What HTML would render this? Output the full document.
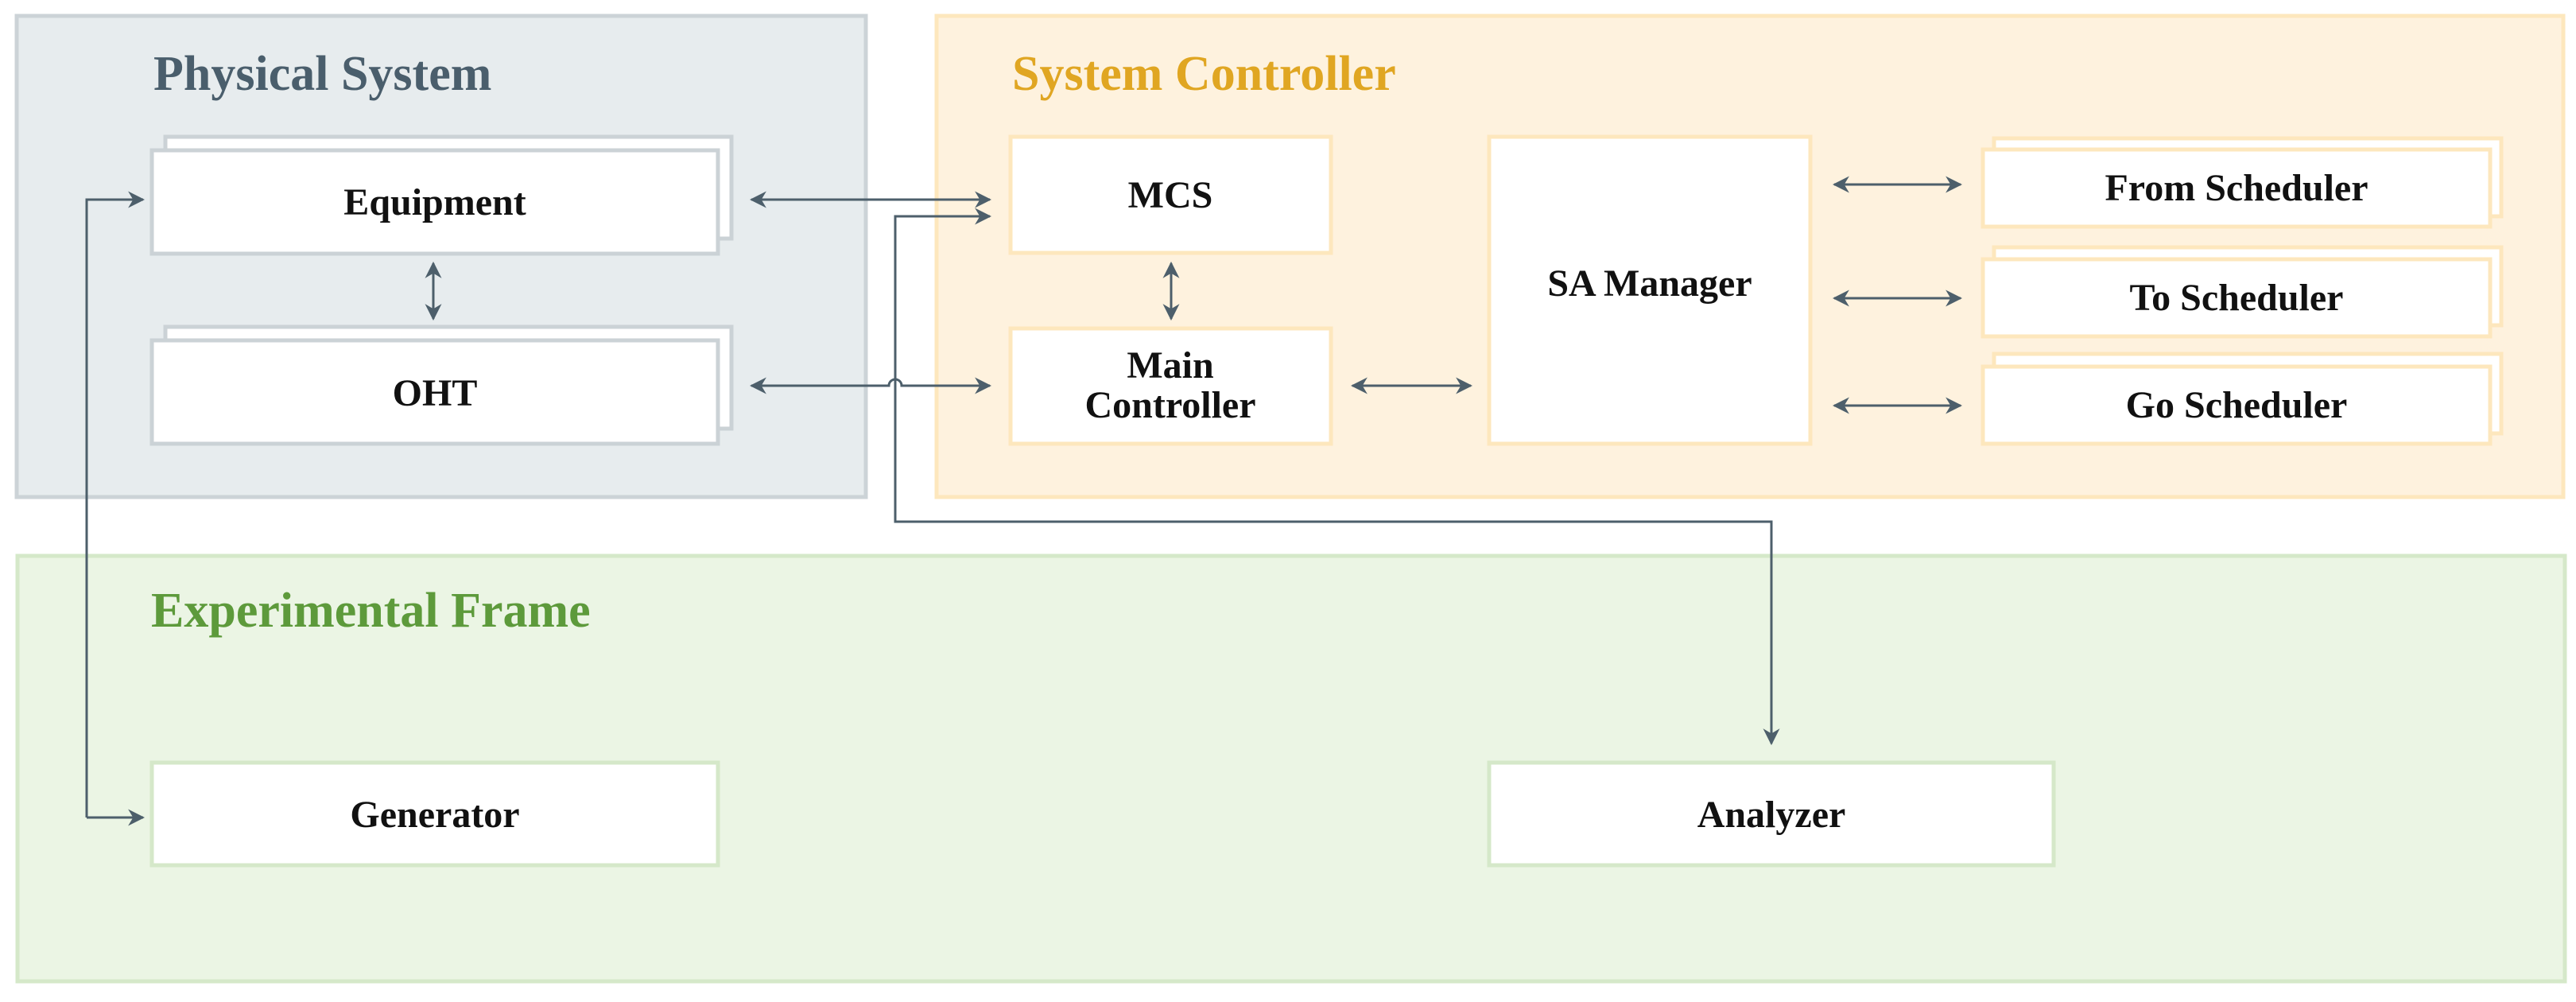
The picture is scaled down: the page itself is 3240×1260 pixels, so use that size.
<!DOCTYPE html>
<html><head><meta charset="utf-8"><style>
html,body{margin:0;padding:0;background:#fff;}
svg{display:block;}
text{font-family:"Liberation Serif",serif;font-weight:bold;}
</style></head><body>
<svg width="3240" height="1260" viewBox="0 0 3240 1260" xmlns="http://www.w3.org/2000/svg">
<defs>
<marker id="a" viewBox="0 0 10 10" refX="9" refY="5" markerWidth="7" markerHeight="7" orient="auto-start-reverse" markerUnits="strokeWidth"><path d="M0,0 L10,5 L0,10 L3,5 z" fill="#4d5f6b"/></marker>
</defs>
<rect x="21" y="20" width="1068" height="605" fill="#e7ecee" stroke="#ccd3d7" stroke-width="5"/>
<rect x="1178" y="20" width="2046" height="605" fill="#fef2de" stroke="#fde7bd" stroke-width="5"/>
<rect x="22" y="699" width="3204" height="535" fill="#ebf5e4" stroke="#d5e8c9" stroke-width="5"/>
<text x="193" y="113" font-size="62" fill="#4a5e6c">Physical System</text>
<text x="1273" y="113" font-size="62" fill="#e0a622">System Controller</text>
<text x="190" y="788" font-size="62" fill="#5d9a3b">Experimental Frame</text>
<g fill="#fff" stroke="#cbd2d6" stroke-width="5">
<rect x="208" y="172" width="712" height="128"/>
<rect x="191" y="189" width="712" height="130"/>
<rect x="208" y="411" width="712" height="128"/>
<rect x="191" y="428" width="712" height="130"/>
</g>
<g fill="#fff" stroke="#fde7bd" stroke-width="5">
<rect x="1271" y="172" width="403" height="146"/>
<rect x="1271" y="413" width="403" height="145"/>
<rect x="1873" y="172" width="404" height="386"/>
<rect x="2508" y="174" width="638" height="98"/>
<rect x="2494" y="188" width="638" height="97"/>
<rect x="2508" y="311" width="638" height="98"/>
<rect x="2494" y="326" width="638" height="97"/>
<rect x="2508" y="445" width="638" height="100"/>
<rect x="2494" y="461" width="638" height="97"/>
</g>
<g fill="#fff" stroke="#d5e8c9" stroke-width="5">
<rect x="191" y="959" width="712" height="129"/>
<rect x="1873" y="959" width="710" height="129"/>
</g>
<g font-size="48" fill="#111" text-anchor="middle">
<text x="547" y="270">Equipment</text>
<text x="547" y="510">OHT</text>
<text x="1472" y="261">MCS</text>
<text x="1472" y="475">Main</text>
<text x="1472" y="525">Controller</text>
<text x="2075" y="372">SA Manager</text>
<text x="2813" y="252">From Scheduler</text>
<text x="2813" y="390">To Scheduler</text>
<text x="2813" y="525">Go Scheduler</text>
<text x="547" y="1040">Generator</text>
<text x="2228" y="1040">Analyzer</text>
</g>
<g stroke="#4d5f6b" stroke-width="3" fill="none">
<line x1="945" y1="251" x2="1245" y2="251" marker-start="url(#a)" marker-end="url(#a)"/>
<path d="M945,485 H1118 A8,8 0 0 1 1134,485 H1245" marker-start="url(#a)" marker-end="url(#a)"/>
<line x1="545" y1="331" x2="545" y2="401" marker-start="url(#a)" marker-end="url(#a)"/>
<line x1="1473" y1="331" x2="1473" y2="401" marker-start="url(#a)" marker-end="url(#a)"/>
<line x1="1701" y1="485" x2="1850" y2="485" marker-start="url(#a)" marker-end="url(#a)"/>
<line x1="2307" y1="232" x2="2466" y2="232" marker-start="url(#a)" marker-end="url(#a)"/>
<line x1="2307" y1="375" x2="2466" y2="375" marker-start="url(#a)" marker-end="url(#a)"/>
<line x1="2307" y1="510" x2="2466" y2="510" marker-start="url(#a)" marker-end="url(#a)"/>
<path d="M2228,935 V656 H1126 V272 H1245" marker-end="url(#a)"/>
<path d="M2228,920 V935" marker-end="url(#a)"/>
<path d="M109,1028 V251 H180" marker-end="url(#a)"/>
<path d="M109,1028 H180" marker-end="url(#a)"/>
</g>
</svg>
</body></html>
